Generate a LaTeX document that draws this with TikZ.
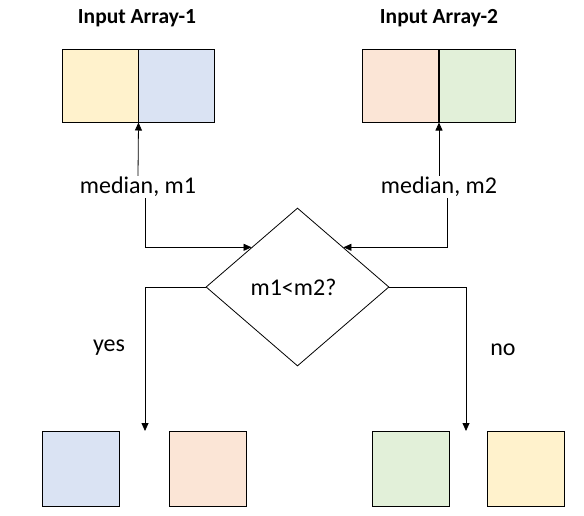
\documentclass[tikz,border=0pt]{standalone}
\usepackage{fontspec}
\setmainfont{Carlito}
\usetikzlibrary{shapes.geometric}
\usetikzlibrary{arrows.meta}

\definecolor{cellyellow}{HTML}{FFF2CC}
\definecolor{cellblue}{HTML}{DAE3F3}
\definecolor{cellpeach}{HTML}{FBE5D6}
\definecolor{cellgreen}{HTML}{E2F0D9}

\begin{document}
\begin{tikzpicture}[x=1pt,y=-1pt,font=\fontsize{24}{28}\selectfont,
        cell/.style={draw,line width=1pt,minimum width=76pt,minimum height=73pt,inner sep=0pt},
        outcell/.style={draw,line width=1pt,minimum width=77pt,minimum height=75pt,inner sep=0pt},
        arr/.style={-{Triangle[length=8pt,width=7pt]},line width=0.8pt}]
        \useasboundingbox (0,0) rectangle (584,515);
        \node[font=\fontsize{21.5}{26}\selectfont\bfseries] (title1) at (137,18) {Input Array-1};
        \node[font=\fontsize{21.5}{26}\selectfont\bfseries] (title2) at (439,18) {Input Array-2};
        \node[cell,fill=cellyellow] (in1l) at (100,85.5) {};
        \node[cell,fill=cellblue] (in1r) at (176.5,85.5) {};
        \node[cell,fill=cellpeach] (in2l) at (400.5,85.5) {};
        \node[cell,fill=cellgreen] (in2r) at (477.5,85.5) {};
        \node[inner sep=1pt] (med1) at (138,187) {median, m1};
        \node[inner sep=1pt] (med2) at (439,187) {median, m2};
        \node[diamond,draw,line width=0.8pt,inner sep=0pt,minimum width=183pt,minimum height=158pt] (test) at (297.5,287) {\hspace*{-8pt}m1<m2?};
        \node (yes) at (109,348) {yes};
        \node (no) at (503,350) {no};
        \node[outcell,fill=cellblue] (out1) at (81,469) {};
        \node[outcell,fill=cellpeach] (out2) at (207.5,469) {};
        \node[outcell,fill=cellgreen] (out3) at (411,469) {};
        \node[outcell,fill=cellyellow] (out4) at (526,469) {};
        \coordinate (yesend) at (145,431);
        \coordinate (noend) at (466,431);
        \draw[arr] (med1.north) -- (in1l.south east);
        \draw[arr] (med2.north) -- (in2l.south east);
        \draw[arr] ([xshift=7pt]med1.south) |- (test.north west);
        \draw[arr] ([xshift=8pt]med2.south) |- (test.north east);
        \draw[arr] (test.west) -| (yesend);
        \draw[arr] (test.east) -| (noend);
    \end{tikzpicture}
\end{document}
